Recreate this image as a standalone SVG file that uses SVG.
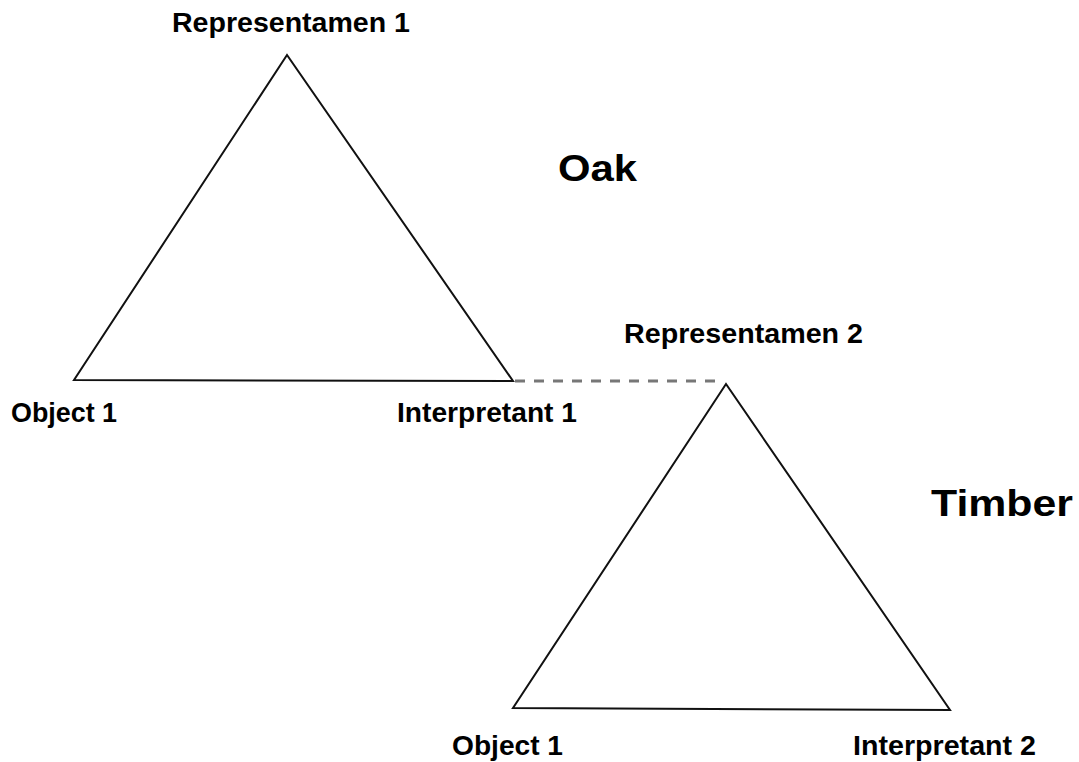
<svg xmlns="http://www.w3.org/2000/svg" width="1079" height="762" viewBox="0 0 1079 762">
<style>
.tri{fill:none;stroke:#111;stroke-width:2;stroke-linejoin:miter}
.lbl{font-family:"Liberation Sans",Arial,sans-serif;font-weight:bold;font-size:27px;fill:#000}
.big{font-family:"Liberation Sans",Arial,sans-serif;font-weight:bold;font-size:36px;fill:#000}
.dash{stroke:#777;stroke-width:3;stroke-dasharray:10 9;fill:none}
</style>
<rect width="1079" height="762" fill="#fff"/>
<g id="triangle1">
<polygon class="tri" points="287,55 74,380 513,381"/>
</g>
<g id="triangle2">
<polygon class="tri" points="726,384 513,708 950,710"/>
</g>
<g id="connectors">
<line class="dash" x1="515" y1="381" x2="722" y2="381"/>
</g>
<g id="rep1"><text class="lbl" x="172" y="32" textLength="238" lengthAdjust="spacingAndGlyphs">Representamen 1</text></g>
<g id="obj1"><text class="lbl" x="11" y="422" textLength="106" lengthAdjust="spacingAndGlyphs">Object 1</text></g>
<g id="int1"><text class="lbl" x="397" y="422" textLength="180" lengthAdjust="spacingAndGlyphs">Interpretant 1</text></g>
<g id="oak"><text class="big" x="558" y="181" textLength="79" lengthAdjust="spacingAndGlyphs">Oak</text></g>
<g id="rep2"><text class="lbl" x="624" y="343" textLength="239" lengthAdjust="spacingAndGlyphs">Representamen 2</text></g>
<g id="timber"><text class="big" x="931" y="516" textLength="142" lengthAdjust="spacingAndGlyphs">Timber</text></g>
<g id="obj1b"><text class="lbl" x="452" y="755" textLength="111" lengthAdjust="spacingAndGlyphs">Object 1</text></g>
<g id="int2"><text class="lbl" x="853" y="755" textLength="183" lengthAdjust="spacingAndGlyphs">Interpretant 2</text></g>
</svg>
